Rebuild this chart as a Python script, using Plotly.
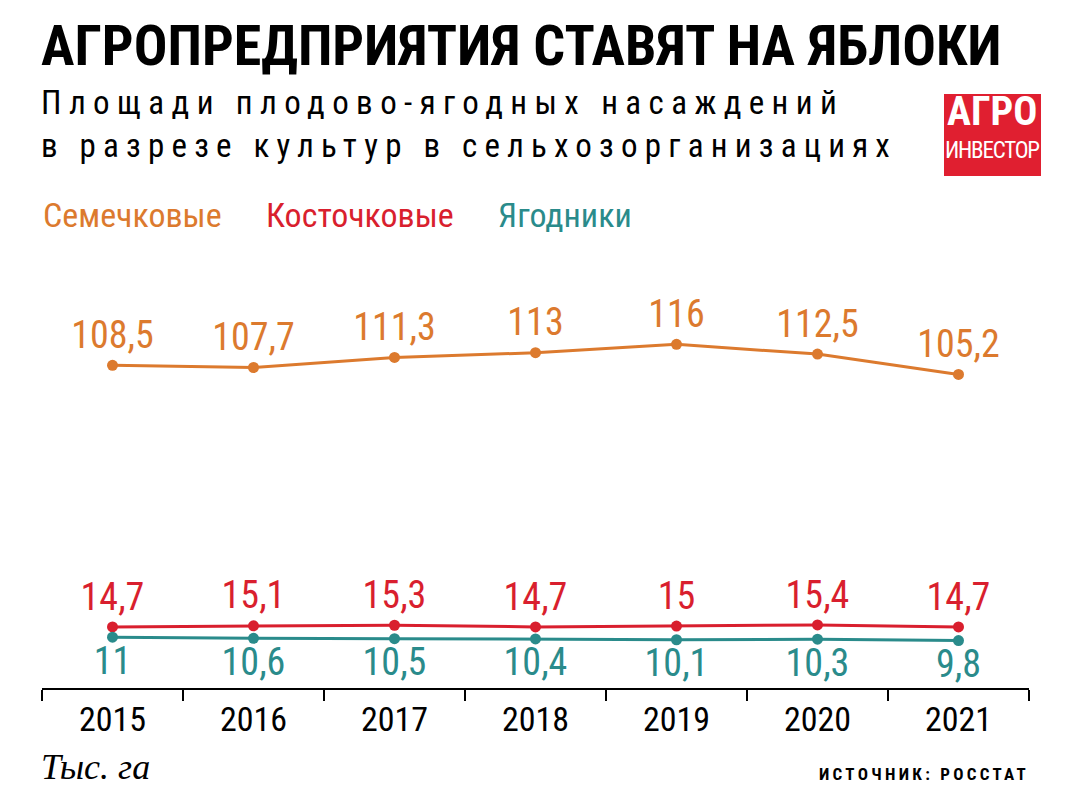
import plotly.graph_objects as go

years = ["2015", "2016", "2017", "2018", "2019", "2020", "2021"]
pome = [108.5, 107.7, 111.3, 113, 116, 112.5, 105.2]
stone = [14.7, 15.1, 15.3, 14.7, 15, 15.4, 14.7]
berries = [11, 10.6, 10.5, 10.4, 10.1, 10.3, 9.8]
series_names = ["Семечковые", "Косточковые", "Ягодники"]

ORANGE = "#DC7A2E"
RED = "#D91F2E"
TEAL = "#2A8B8B"
COND = "Roboto Condensed, Open Sans Condensed, DejaVu Sans Condensed, sans-serif"


def fmt(v):
    return ("%g" % v).replace(".", ",")


fig = go.Figure()
for vals, color, pos, name in [
    (pome, ORANGE, "top center", series_names[0]),
    (stone, RED, "top center", series_names[1]),
    (berries, TEAL, "bottom center", series_names[2]),
]:
    fig.add_trace(go.Scatter(
        x=years, y=vals, mode="lines+markers+text", name=name,
        line=dict(color=color, width=3),
        marker=dict(color=color, size=11),
        text=[fmt(v) for v in vals], textposition=pos,
        textfont=dict(family=COND, size=38, color=color),
        cliponaxis=False, showlegend=False,
    ))

fig.update_xaxes(
    type="category", range=[-0.5, 6.5], showgrid=False, zeroline=False,
    showline=True, linecolor="black", linewidth=1.5,
    ticks="outside", tickson="boundaries", ticklen=11, tickwidth=1.5, tickcolor="black",
    tickfont=dict(family=COND, size=34, color="black"),
    fixedrange=True,
)
fig.update_yaxes(range=[-7.2, 131.9], visible=False, showgrid=False, zeroline=False)

# page offset (body margin of the html page)
OFF = 8
W, H = 1071 - OFF, 798 - OFF
L = 42 - OFF
R = W - (1029 - OFF)
T = 300 - OFF
B = H - (688 - OFF)
pw, ph = W - L - R, H - T - B


def px2paper(x, y):
    return (x - OFF - L) / pw, 1 - (y - OFF - T) / ph


ann = []


def add(text, x, y, xa, ya, font, align="left"):
    px, py = px2paper(x, y)
    ann.append(dict(text=text, x=px, y=py, xref="paper", yref="paper", showarrow=False,
                    xanchor=xa, yanchor=ya, align=align, font=font, borderpad=0))


add('<b>АГРОПРЕДПРИЯТИЯ СТАВЯТ НА ЯБЛОКИ</b>', 40, 12, "left", "top",
    dict(family=COND, size=56, color="black"))
add('<span style="letter-spacing:7.4px">Площади плодово-ягодных насаждений</span><br>'
    '<span style="letter-spacing:7.2px">в разрезе культур в сельхозорганизациях</span>',
    40, 82, "left", "top", dict(family=COND, size=33, color="black"))
for name, color, lx in zip(series_names, [ORANGE, RED, TEAL], [42, 265, 497]):
    add(name, lx, 194, "left", "top", dict(family=COND, size=34, color=color))
add("<i>Тыс. га</i>", 40, 746, "left", "top",
    dict(family="Liberation Serif, DejaVu Serif, serif", size=36, color="black"))
add('<b><span style="letter-spacing:3.3px">ИСТОЧНИК: РОССТАТ</span></b>', 1030, 763, "right", "top",
    dict(family=COND, size=17, color="black"))
# logo
add("<b>АГРО</b>", 992, 136, "center", "bottom", dict(family=COND, size=40, color="white"))
add('<span style="letter-spacing:-1.2px">ИНВЕСТОР</span>', 992, 136, "center", "top",
    dict(family=COND, size=23, color="white"))

x0, y1 = px2paper(944, 94)
x1, y0 = px2paper(1041, 176)

fig.update_layout(
    width=W, height=H,
    margin=dict(l=L, r=R, t=T, b=B),
    paper_bgcolor="white", plot_bgcolor="white",
    annotations=ann,
    shapes=[dict(type="rect", xref="paper", yref="paper", x0=x0, x1=x1, y0=y0, y1=y1,
                 fillcolor="#E01F30", line=dict(width=0), layer="below")],
)

fig.write_html("out.html")
